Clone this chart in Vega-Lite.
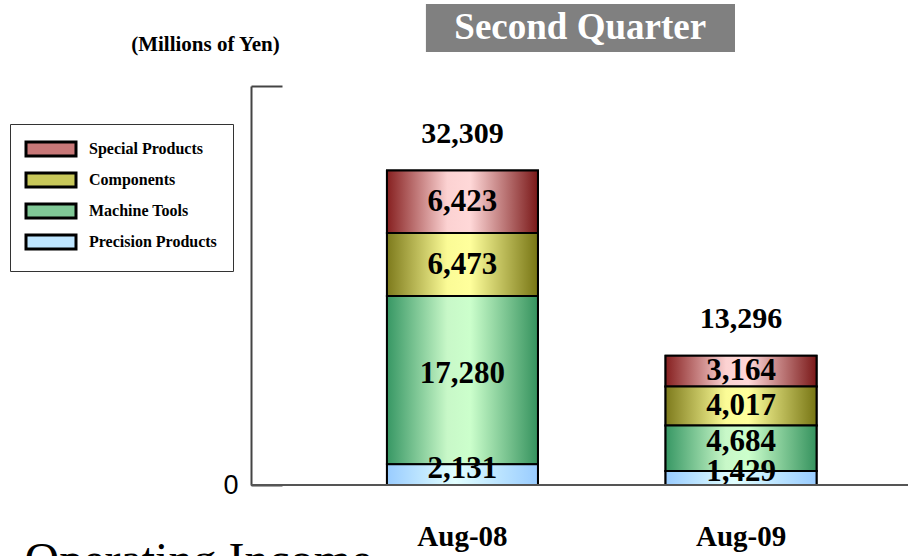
{
  "$schema": "https://vega.github.io/schema/vega-lite/v6.json",
  "width": 657,
  "height": 399,
  "autosize": {"type": "none"},
  "padding": {"left": 251, "top": 86, "right": 0, "bottom": 71},
  "background": "white",
  "config": {"view": {"stroke": null}, "font": "Liberation Serif"},
  "datasets": {
    "segments": [
      {"month": "Aug-08", "category": "Precision Products", "value": 2131},
      {"month": "Aug-08", "category": "Machine Tools", "value": 17280},
      {"month": "Aug-08", "category": "Components", "value": 6473},
      {"month": "Aug-08", "category": "Special Products", "value": 6423},
      {"month": "Aug-09", "category": "Precision Products", "value": 1429},
      {"month": "Aug-09", "category": "Machine Tools", "value": 4684},
      {"month": "Aug-09", "category": "Components", "value": 4017},
      {"month": "Aug-09", "category": "Special Products", "value": 3164}
    ],
    "totals": [
      {"month": "Aug-08", "total": 32309},
      {"month": "Aug-09", "total": 13296}
    ],
    "heading": [{"label": "Second Quarter"}]
  },
  "layer": [
    {
      "data": {"name": "segments"},
      "transform": [
        {"calculate": "indexof(['Precision Products','Machine Tools','Components','Special Products'], datum.category)", "as": "order"},
        {"stack": "value", "groupby": ["month"], "sort": [{"field": "order", "order": "ascending"}], "as": ["y0", "y1"]},
        {"calculate": "(datum.y0 + datum.y1) / 2", "as": "mid"}
      ],
      "layer": [
        {
          "mark": {"type": "bar", "stroke": "black", "strokeWidth": 2},
          "encoding": {
            "x": {
              "field": "month", "type": "nominal", "sort": ["Aug-08", "Aug-09"],
              "scale": {"range": [0, 701.5], "paddingInner": 0.458, "paddingOuter": 0.488},
              "axis": {
                "title": "Operating Income", "titleX": -227, "titleY": 90, "titleAlign": "left", "titleAnchor": "start",
                "titleBaseline": "alphabetic", "titleFont": "Liberation Serif", "titleFontWeight": "normal",
                "titleFontSize": 48, "titleColor": "black",
                "domain": false, "ticks": false, "labelAngle": 0,
                "labelFont": "Liberation Serif", "labelFontWeight": "bold", "labelFontSize": 29,
                "labelColor": "black", "labelPadding": 37
              }
            },
            "y": {
              "field": "y0", "type": "quantitative",
              "scale": {"domain": [0, 41000], "nice": false},
              "axis": {
                "title": "(Millions of Yen)", "titleAngle": 0, "titleX": -46, "titleY": -42,
                "titleAlign": "center", "titleBaseline": "middle", "titleFont": "Liberation Serif",
                "titleFontWeight": "bold", "titleFontSize": 21, "titleColor": "black",
                "values": [0, 41000], "labelExpr": "datum.value == 0 ? '0' : ''",
                "tickSize": -31, "tickColor": "#444", "tickWidth": 2,
                "domainColor": "#444", "domainWidth": 2, "grid": false,
                "labelFont": "Liberation Sans", "labelFontSize": 27, "labelColor": "black",
                "labelPadding": 44, "labelBaseline": "middle"
              }
            },
            "y2": {"field": "y1"},
            "color": {
              "field": "category", "type": "nominal",
              "scale": {
                "domain": ["Special Products", "Components", "Machine Tools", "Precision Products"],
                "range": ["#c87878", "#c8c85a", "#80c896", "#bfe6ff"]
              },
              "legend": {
                "orient": "none", "legendX": -241, "legendY": 38, "title": null,
                "padding": 16, "strokeColor": "#333", "fillColor": "white",
                "symbolType": "M-3.333,-0.933H3.333V0.933H-3.333Z", "symbolSize": 225,
                "symbolStrokeColor": "black", "symbolStrokeWidth": 3, "symbolOffset": 16,
                "symbolOpacity": 1, "labelOffset": 29, "rowPadding": 5,
                "labelFont": "Liberation Serif", "labelFontWeight": "bold", "labelFontSize": 16,
                "labelColor": "black",
                "encode": {
                  "symbols": {
                    "update": {
                      "fill": [
                        {"test": "datum.value === 'Special Products'", "value": {"gradient": "linear", "x1": 0, "y1": 0, "x2": 1, "y2": 0, "stops": [
                          {"offset": 0, "color": "#862020"}, {"offset": 0.4, "color": "#fcd2d2"},
                          {"offset": 0.55, "color": "#ffd8d8"}, {"offset": 1, "color": "#7a1818"}]}},
                        {"test": "datum.value === 'Components'", "value": {"gradient": "linear", "x1": 0, "y1": 0, "x2": 1, "y2": 0, "stops": [
                          {"offset": 0, "color": "#7d7a1c"}, {"offset": 0.4, "color": "#fbfb96"},
                          {"offset": 0.55, "color": "#ffff9c"}, {"offset": 1, "color": "#777514"}]}},
                        {"test": "datum.value === 'Machine Tools'", "value": {"gradient": "linear", "x1": 0, "y1": 0, "x2": 1, "y2": 0, "stops": [
                          {"offset": 0, "color": "#379764"}, {"offset": 0.4, "color": "#c8f8c8"},
                          {"offset": 0.55, "color": "#ccffcc"}, {"offset": 1, "color": "#35925e"}]}},
                        {"value": {"gradient": "linear", "x1": 0, "y1": 0, "x2": 1, "y2": 0, "stops": [
                          {"offset": 0, "color": "#99ccff"}, {"offset": 0.45, "color": "#e2ffff"},
                          {"offset": 1, "color": "#99ccff"}]}}
                      ],
                      "stroke": {"value": "black"},
                      "strokeWidth": {"value": 3}
                    }
                  }
                }
              }
            }
          }
        },
        {
          "transform": [{"filter": "datum.category == 'Special Products'"}],
          "mark": {"type": "bar", "stroke": "black", "strokeWidth": 2,
            "fill": {"gradient": "linear", "x1": 0, "y1": 0, "x2": 1, "y2": 0, "stops": [
              {"offset": 0, "color": "#862020"}, {"offset": 0.4, "color": "#fcd2d2"},
              {"offset": 0.55, "color": "#ffd8d8"}, {"offset": 1, "color": "#7a1818"}]}},
          "encoding": {
            "x": {"field": "month", "type": "nominal", "sort": ["Aug-08", "Aug-09"]},
            "y": {"field": "y0", "type": "quantitative"},
            "y2": {"field": "y1"}
          }
        },
        {
          "transform": [{"filter": "datum.category == 'Components'"}],
          "mark": {"type": "bar", "stroke": "black", "strokeWidth": 2,
            "fill": {"gradient": "linear", "x1": 0, "y1": 0, "x2": 1, "y2": 0, "stops": [
              {"offset": 0, "color": "#7d7a1c"}, {"offset": 0.4, "color": "#fbfb96"},
              {"offset": 0.55, "color": "#ffff9c"}, {"offset": 1, "color": "#777514"}]}},
          "encoding": {
            "x": {"field": "month", "type": "nominal", "sort": ["Aug-08", "Aug-09"]},
            "y": {"field": "y0", "type": "quantitative"},
            "y2": {"field": "y1"}
          }
        },
        {
          "transform": [{"filter": "datum.category == 'Machine Tools'"}],
          "mark": {"type": "bar", "stroke": "black", "strokeWidth": 2,
            "fill": {"gradient": "linear", "x1": 0, "y1": 0, "x2": 1, "y2": 0, "stops": [
              {"offset": 0, "color": "#379764"}, {"offset": 0.4, "color": "#c8f8c8"},
              {"offset": 0.55, "color": "#ccffcc"}, {"offset": 1, "color": "#35925e"}]}},
          "encoding": {
            "x": {"field": "month", "type": "nominal", "sort": ["Aug-08", "Aug-09"]},
            "y": {"field": "y0", "type": "quantitative"},
            "y2": {"field": "y1"}
          }
        },
        {
          "transform": [{"filter": "datum.category == 'Precision Products'"}],
          "mark": {"type": "bar", "stroke": "black", "strokeWidth": 2,
            "fill": {"gradient": "linear", "x1": 0, "y1": 0, "x2": 1, "y2": 0, "stops": [
              {"offset": 0, "color": "#99ccff"}, {"offset": 0.45, "color": "#e2ffff"},
              {"offset": 1, "color": "#99ccff"}]}},
          "encoding": {
            "x": {"field": "month", "type": "nominal", "sort": ["Aug-08", "Aug-09"]},
            "y": {"field": "y0", "type": "quantitative"},
            "y2": {"field": "y1"}
          }
        },
        {
          "transform": [{"filter": "datum.category == 'Special Products' || datum.category == 'Components'"}],
          "mark": {"type": "text", "font": "Liberation Serif", "fontWeight": "bold", "fontSize": 31, "color": "black", "baseline": "middle"},
          "encoding": {
            "x": {"field": "month", "type": "nominal", "sort": ["Aug-08", "Aug-09"]},
            "y": {"field": "mid", "type": "quantitative"},
            "text": {"field": "value", "type": "quantitative", "format": ","}
          }
        },
        {
          "transform": [{"filter": "datum.category == 'Machine Tools' || datum.category == 'Precision Products'"}],
          "mark": {"type": "text", "font": "Liberation Serif", "fontWeight": "bold", "fontSize": 31, "color": "black", "baseline": "middle", "dy": -6},
          "encoding": {
            "x": {"field": "month", "type": "nominal", "sort": ["Aug-08", "Aug-09"]},
            "y": {"field": "mid", "type": "quantitative"},
            "text": {"field": "value", "type": "quantitative", "format": ","}
          }
        }
      ]
    },
    {
      "data": {"name": "totals"},
      "mark": {"type": "text", "font": "Liberation Serif", "fontWeight": "bold", "fontSize": 30, "color": "black", "baseline": "middle", "dy": -37},
      "encoding": {
        "x": {"field": "month", "type": "nominal", "sort": ["Aug-08", "Aug-09"]},
        "y": {"field": "total", "type": "quantitative"},
        "text": {"field": "total", "type": "quantitative", "format": ","}
      }
    },
    {
      "data": {"name": "heading"},
      "mark": {"type": "rect", "color": "#808080"},
      "encoding": {
        "x": {"datum": "Aug-08", "type": "nominal", "bandPosition": 0.258},
        "x2": {"datum": "Aug-09", "bandPosition": 0.46},
        "y": {"datum": 49426, "type": "quantitative", "scale": {"domain": [0, 41000], "nice": false}},
        "y2": {"datum": 44494}
      }
    },
    {
      "data": {"name": "heading"},
      "mark": {"type": "text", "font": "Liberation Serif", "fontWeight": "bold", "fontSize": 37, "color": "white", "baseline": "middle"},
      "encoding": {
        "x": {"datum": "Aug-08", "type": "nominal", "bandPosition": 1.28},
        "y": {"datum": 46960, "type": "quantitative", "scale": {"domain": [0, 41000], "nice": false}},
        "text": {"field": "label", "type": "nominal"}
      }
    },
    {
      "data": {"name": "heading"},
      "mark": {"type": "rule", "color": "#555555", "strokeWidth": 2},
      "encoding": {
        "y": {"datum": 0, "type": "quantitative", "scale": {"domain": [0, 41000], "nice": false}}
      }
    }
  ]
}
